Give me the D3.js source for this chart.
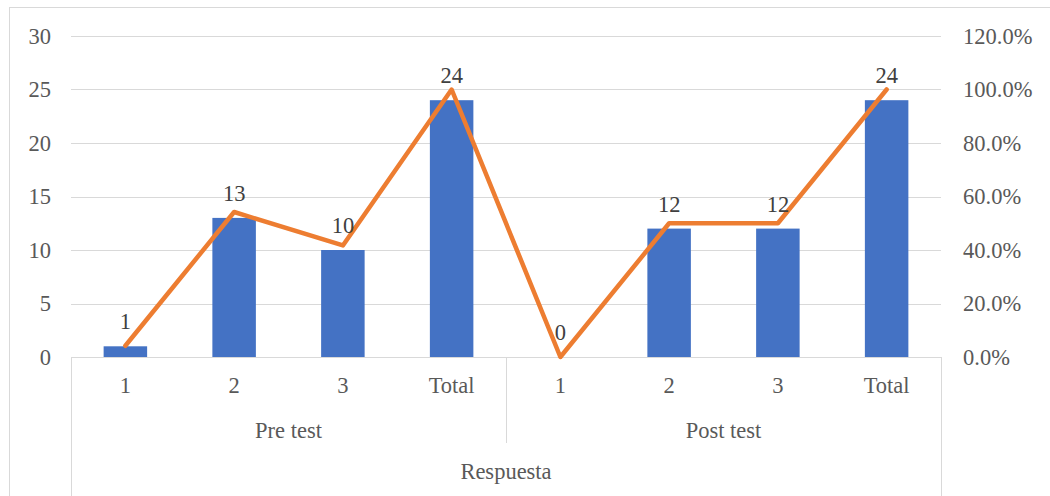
<!DOCTYPE html>
<html>
<head>
<meta charset="utf-8">
<script src="https://cdn.jsdelivr.net/npm/d3@7"></script>
<style>
  body { margin: 0; background: #fff; }
  text { font-family: "Liberation Serif", "Times New Roman", serif; fill: #595959; font-size: 22.5px; }
</style>
</head>
<body>
<script>
var categories = ['1', '2', '3', 'Total', '1', '2', '3', 'Total'];
var groups = ['Pre test', 'Post test'];
var counts = [1, 13, 10, 24, 0, 12, 12, 24];
var percents = [0.042, 0.542, 0.417, 1.0, 0.0, 0.5, 0.5, 1.0];
var leftTicks = [0, 5, 10, 15, 20, 25, 30];
var rightTicks = [0, 0.2, 0.4, 0.6, 0.8, 1.0, 1.2];
var axisTitle = 'Respuesta';

var svgWidth = 1050, svgHeight = 496;
var margin = {top: 36, left: 71, right: 109, bottom: 139};
var width = svgWidth - margin.left - margin.right,
    height = svgHeight - margin.top - margin.bottom;

var svg = d3.select('body').append('svg')
  .attr('width', svgWidth)
  .attr('height', svgHeight);

// outer frame
svg.append('rect')
  .attr('x', 9.5).attr('y', 7.5)
  .attr('width', 1060).attr('height', 500)
  .attr('fill', 'none')
  .attr('stroke', '#d9d9d9');

var g = svg.append('g')
  .attr('transform', `translate(${margin.left},${margin.top})`);

var x = d3.scaleBand().domain(d3.range(categories.length)).range([0, width]).paddingInner(0.6).paddingOuter(0.3);
var y = d3.scaleLinear().domain([0, 30]).range([height, 0]);
var y2 = d3.scaleLinear().domain([0, 1.2]).range([height, 0]);

// grid
g.selectAll('.grid').data(leftTicks.slice(1)).enter().append('line')
  .attr('x1', 0).attr('x2', width)
  .attr('y1', d => Math.round(y(d)) + 0.5).attr('y2', d => Math.round(y(d)) + 0.5)
  .attr('stroke', '#d9d9d9').attr('stroke-width', 1);

// left axis labels
g.selectAll('.ly').data(leftTicks).enter().append('text')
  .attr('x', -20).attr('y', d => y(d))
  .attr('dy', '0.35em')
  .attr('text-anchor', 'end')
  .text(d => d);

// right axis labels
g.selectAll('.ry').data(rightTicks).enter().append('text')
  .attr('x', width + 22).attr('y', d => y2(d))
  .attr('dy', '0.35em')
  .attr('text-anchor', 'start')
  .text(d => (d * 100).toFixed(1) + '%');

// bars
g.selectAll('.bar').data(counts).enter().append('rect')
  .attr('x', (d, i) => x(i))
  .attr('y', d => y(d))
  .attr('width', x.bandwidth())
  .attr('height', d => height - y(d))
  .attr('fill', '#4472c4');

// axis line and separators
g.append('line')
  .attr('x1', 0).attr('x2', width)
  .attr('y1', height + 0.5).attr('y2', height + 0.5)
  .attr('stroke', '#d9d9d9');
[[0, 160], [width / 2, 86], [width, 160]].forEach(function(s) {
  g.append('line')
    .attr('x1', Math.round(s[0]) + 0.5).attr('x2', Math.round(s[0]) + 0.5)
    .attr('y1', height).attr('y2', height + s[1])
    .attr('stroke', '#d9d9d9');
});

// category labels
g.selectAll('.cat').data(categories).enter().append('text')
  .attr('x', (d, i) => x(i) + x.bandwidth() / 2)
  .attr('y', height + 28)
  .attr('dy', '0.35em')
  .attr('text-anchor', 'middle')
  .text(d => d);

g.selectAll('.grp').data(groups).enter().append('text')
  .attr('x', (d, i) => width / 4 + i * width / 2)
  .attr('y', height + 73)
  .attr('dy', '0.35em')
  .attr('text-anchor', 'middle')
  .text(d => d);

g.append('text')
  .attr('x', width / 2)
  .attr('y', height + 114)
  .attr('dy', '0.35em')
  .attr('text-anchor', 'middle')
  .text(axisTitle);

// line
var line = d3.line()
  .x((d, i) => x(i) + x.bandwidth() / 2)
  .y(d => y2(d));
g.append('path')
  .datum(percents)
  .attr('d', line)
  .attr('fill', 'none')
  .attr('stroke', '#ed7d31')
  .attr('stroke-width', 4.5)
  .attr('stroke-linejoin', 'round')
  .attr('stroke-linecap', 'round');

// data labels
g.selectAll('.lbl').data(counts).enter().append('text')
  .attr('x', (d, i) => x(i) + x.bandwidth() / 2)
  .attr('y', d => y(d) - 17)
  .attr('text-anchor', 'middle')
  .style('fill', '#404040')
  .text(d => d);
</script>
</body>
</html>
